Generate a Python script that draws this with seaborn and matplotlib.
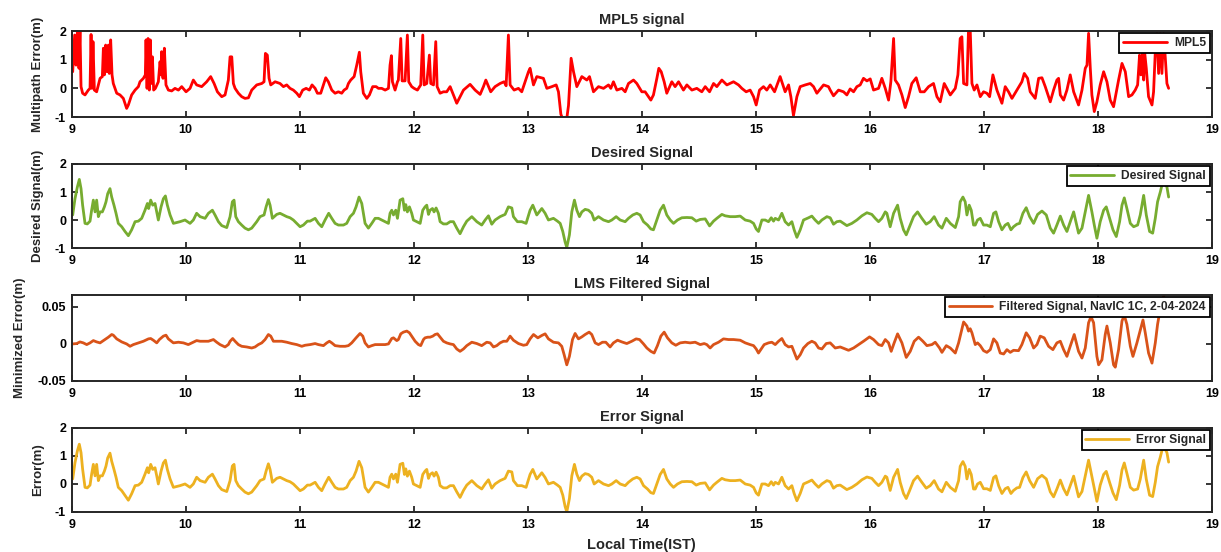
import matplotlib
matplotlib.use("Agg")
import matplotlib.pyplot as plt
import seaborn as sns
import pandas as pd

# ---------------------------------------------------------------------------
# NavIC 1C multipath (MPL5) and LMS adaptive-filter outputs, 2-04-2024
# time in hours of local time (IST), values in metres
# ---------------------------------------------------------------------------
mpl5_time = [
    9.009, 9.026, 9.038, 9.050, 9.064, 9.073, 9.082, 9.096, 9.117, 9.146, 9.161, 9.170, 9.178, 9.187, 9.199,
    9.219, 9.249, 9.269, 9.278, 9.287, 9.298, 9.310, 9.322, 9.330, 9.342, 9.354, 9.365, 9.395, 9.424, 9.453,
    9.482, 9.497, 9.526, 9.556, 9.585, 9.599, 9.629, 9.646, 9.652, 9.661, 9.670, 9.681, 9.690, 9.699, 9.708,
    9.719, 9.734, 9.760, 9.775, 9.784, 9.789, 9.801, 9.813, 9.827, 9.848, 9.877, 9.906, 9.936, 9.965, 10.003,
    10.038, 10.067, 10.096, 10.140, 10.184, 10.219, 10.249, 10.278, 10.316, 10.345, 10.374, 10.389, 10.404, 10.418, 10.433,
    10.462, 10.491, 10.520, 10.550, 10.579, 10.623, 10.667, 10.687, 10.699, 10.716, 10.731, 10.746, 10.784, 10.827, 10.857,
    10.886, 10.915, 10.944, 10.974, 10.997, 11.026, 11.056, 11.085, 11.108, 11.135, 11.155, 11.184, 11.208, 11.228, 11.251,
    11.281, 11.310, 11.339, 11.368, 11.389, 11.412, 11.427, 11.447, 11.477, 11.500, 11.523, 11.535, 11.558, 11.588, 11.611,
    11.640, 11.670, 11.690, 11.719, 11.749, 11.778, 11.792, 11.804, 11.813, 11.836, 11.857, 11.865, 11.886, 11.898, 11.924,
    11.944, 11.956, 11.982, 12.003, 12.032, 12.061, 12.079, 12.091, 12.114, 12.137, 12.149, 12.173, 12.193, 12.205, 12.231,
    12.260, 12.289, 12.319, 12.377, 12.436, 12.494, 12.538, 12.582, 12.611, 12.632, 12.675, 12.713, 12.757, 12.792, 12.810,
    12.830, 12.845, 12.880, 12.918, 12.947, 13.006, 13.020, 13.050, 13.079, 13.137, 13.167, 13.211, 13.249, 13.269, 13.290,
    13.304, 13.342, 13.357, 13.380, 13.401, 13.430, 13.474, 13.518, 13.541, 13.576, 13.620, 13.664, 13.708, 13.728, 13.751,
    13.781, 13.825, 13.854, 13.883, 13.927, 13.956, 14.000, 14.029, 14.058, 14.079, 14.102, 14.132, 14.149, 14.170, 14.196,
    14.219, 14.263, 14.292, 14.322, 14.365, 14.395, 14.439, 14.482, 14.526, 14.556, 14.594, 14.629, 14.658, 14.702, 14.746,
    14.804, 14.848, 14.877, 14.915, 14.950, 14.980, 15.003, 15.032, 15.067, 15.096, 15.126, 15.164, 15.213, 15.257, 15.287,
    15.307, 15.330, 15.360, 15.389, 15.433, 15.477, 15.506, 15.535, 15.594, 15.637, 15.652, 15.681, 15.725, 15.769, 15.798,
    15.827, 15.857, 15.886, 15.915, 15.944, 15.974, 16.003, 16.032, 16.076, 16.105, 16.135, 16.164, 16.184, 16.208, 16.222,
    16.251, 16.281, 16.310, 16.339, 16.368, 16.406, 16.442, 16.477, 16.515, 16.558, 16.588, 16.617, 16.652, 16.675, 16.705,
    16.749, 16.772, 16.792, 16.807, 16.822, 16.851, 16.865, 16.880, 16.895, 16.915, 16.939, 16.968, 16.997, 17.026, 17.050,
    17.079, 17.114, 17.158, 17.187, 17.216, 17.246, 17.289, 17.333, 17.354, 17.383, 17.406, 17.450, 17.480, 17.509, 17.538,
    17.582, 17.611, 17.640, 17.655, 17.670, 17.699, 17.728, 17.757, 17.787, 17.830, 17.860, 17.889, 17.904, 17.918, 17.933,
    17.947, 17.968, 17.991, 18.020, 18.050, 18.079, 18.108, 18.137, 18.181, 18.211, 18.240, 18.269, 18.298, 18.327, 18.348,
    18.365, 18.377, 18.392, 18.401, 18.409, 18.424, 18.444, 18.474, 18.488, 18.503, 18.518, 18.532, 18.547, 18.561, 18.576,
    18.591, 18.605, 18.620,
]
mpl5_error = [
    0.58, 1.86, 0.81, 1.98, 0.70, 2.05, 0.06, -0.17, -0.23, -0.06, 0.00, 1.88, 0.00, 1.63, -0.06,
    -0.12, 0.35, 0.41, 1.40, 0.47, 1.51, 0.58, 1.51, 0.52, 1.69, 0.47, 0.17, -0.17, -0.23, -0.35,
    -0.70, -0.58, -0.23, -0.06, 0.06, 0.23, 0.35, 0.47, 1.69, 0.00, 1.74, -0.06, 1.69, 0.17, 1.10,
    -0.06, 0.00, 0.23, 0.93, 0.47, 1.28, 0.35, 1.40, 0.12, -0.06, -0.09, 0.00, -0.06, 0.06, -0.12,
    0.00, 0.29, 0.12, 0.06, 0.23, 0.41, 0.17, -0.12, -0.29, -0.23, 0.29, 1.10, 1.10, 0.17, 0.00,
    -0.17, -0.29, -0.35, -0.33, -0.06, 0.12, 0.17, 0.23, 1.22, 1.16, 0.35, 0.12, 0.23, 0.17, 0.06,
    0.12, 0.00, -0.06, -0.17, -0.29, -0.06, 0.00, -0.06, 0.12, 0.00, -0.17, -0.17, 0.12, 0.37, 0.23,
    -0.06, -0.17, -0.12, -0.17, -0.06, 0.00, 0.17, 0.29, 0.41, 0.81, 1.26, 0.58, -0.17, -0.35, -0.23,
    0.06, 0.06, 0.00, 0.00, -0.06, 0.00, 0.81, 1.14, 0.23, -0.06, 0.23, 0.29, 1.74, 0.26, 0.26,
    1.86, 0.23, 0.06, 0.00, -0.06, 0.12, 1.86, 0.12, 0.17, 1.16, 0.17, 0.12, 1.63, 0.06, -0.17,
    -0.12, -0.12, 0.06, -0.52, -0.06, 0.14, -0.06, -0.21, 0.06, 0.29, -0.12, 0.06, 0.17, 0.23, 0.09,
    1.86, 0.12, -0.06, 0.00, -0.12, 0.58, 0.70, 0.12, 0.41, 0.35, 0.00, 0.06, 0.12, -0.12, -0.90,
    -1.05, -1.05, -0.60, 1.05, 0.58, 0.06, 0.41, 0.29, 0.41, -0.12, 0.06, 0.00, 0.12, 0.00, 0.23,
    -0.06, 0.00, -0.12, 0.17, 0.29, 0.17, -0.12, -0.12, -0.29, -0.41, -0.23, 0.35, 0.70, 0.58, 0.23,
    -0.17, 0.23, 0.06, 0.23, -0.06, 0.12, -0.06, 0.00, -0.12, 0.06, -0.12, 0.17, 0.06, 0.29, 0.12,
    0.23, 0.12, 0.00, -0.12, -0.06, -0.29, -0.58, -0.06, 0.06, -0.06, 0.12, -0.12, 0.41, -0.12, 0.12,
    -0.29, -0.95, -0.29, 0.06, 0.12, 0.17, 0.06, -0.17, 0.12, 0.06, -0.06, -0.26, -0.06, -0.12, -0.23,
    -0.02, -0.12, 0.06, 0.12, 0.35, 0.26, 0.33, -0.06, 0.00, 0.35, 0.00, -0.41, 0.23, 1.74, 0.29,
    0.12, -0.23, -0.67, -0.29, 0.17, 0.37, -0.12, -0.12, 0.06, 0.17, -0.29, -0.47, 0.17, 0.00, -0.23,
    0.00, 0.47, 1.74, 1.80, 0.17, 0.12, 2.05, 2.05, 0.17, -0.06, 0.12, -0.29, -0.12, -0.17, -0.29,
    0.47, -0.06, -0.52, 0.06, -0.12, -0.35, -0.06, 0.23, 0.52, 0.35, -0.12, -0.35, 0.35, 0.37, 0.06,
    -0.47, -0.06, 0.29, 0.35, -0.23, -0.41, -0.06, 0.47, -0.12, -0.58, -0.06, 0.70, 0.81, 1.92, 0.70,
    -0.23, -0.81, -0.47, 0.12, 0.58, 0.23, -0.41, -0.64, 0.29, 0.87, 0.58, -0.29, -0.23, -0.06, 0.12,
    1.16, 0.47, 1.22, 0.29, 1.28, 0.70, -0.29, -0.58, -0.12, 1.28, 1.90, 0.52, 1.90, 0.52, 1.90,
    1.05, 0.17, 0.00,
]

# epochs of the smoothed (desired / error) series
smooth_time = [
    9.009, 9.029, 9.050, 9.067, 9.082, 9.096, 9.117, 9.137, 9.161, 9.175, 9.190, 9.205, 9.219, 9.234, 9.249,
    9.269, 9.287, 9.301, 9.316, 9.336, 9.351, 9.371, 9.389, 9.409, 9.439, 9.468, 9.497, 9.526, 9.556, 9.585,
    9.614, 9.643, 9.664, 9.675, 9.693, 9.711, 9.731, 9.746, 9.760, 9.784, 9.804, 9.822, 9.839, 9.863, 9.892,
    9.950, 9.994, 10.038, 10.067, 10.096, 10.126, 10.170, 10.199, 10.234, 10.257, 10.287, 10.316, 10.360, 10.389, 10.409,
    10.424, 10.439, 10.462, 10.491, 10.520, 10.550, 10.579, 10.623, 10.652, 10.687, 10.705, 10.725, 10.740, 10.760, 10.798,
    10.827, 10.857, 10.886, 10.915, 10.944, 10.974, 11.003, 11.032, 11.067, 11.091, 11.135, 11.164, 11.193, 11.222, 11.254,
    11.281, 11.310, 11.339, 11.383, 11.412, 11.442, 11.471, 11.494, 11.520, 11.544, 11.573, 11.602, 11.632, 11.661, 11.690,
    11.719, 11.749, 11.778, 11.792, 11.807, 11.822, 11.842, 11.857, 11.880, 11.904, 11.918, 11.930, 11.944, 11.962, 11.982,
    11.997, 12.026, 12.056, 12.079, 12.099, 12.114, 12.129, 12.143, 12.164, 12.178, 12.196, 12.216, 12.231, 12.260, 12.289,
    12.319, 12.348, 12.377, 12.406, 12.436, 12.465, 12.509, 12.553, 12.596, 12.626, 12.655, 12.684, 12.713, 12.757, 12.801,
    12.830, 12.860, 12.874, 12.909, 12.947, 12.985, 13.020, 13.044, 13.079, 13.123, 13.152, 13.181, 13.225, 13.260, 13.284,
    13.307, 13.327, 13.342, 13.365, 13.386, 13.409, 13.430, 13.453, 13.474, 13.503, 13.532, 13.561, 13.582, 13.620, 13.664,
    13.708, 13.737, 13.775, 13.810, 13.854, 13.883, 13.921, 13.956, 13.985, 14.015, 14.050, 14.079, 14.102, 14.132, 14.161,
    14.190, 14.219, 14.249, 14.278, 14.313, 14.351, 14.395, 14.439, 14.477, 14.512, 14.556, 14.594, 14.629, 14.658, 14.702,
    14.731, 14.775, 14.819, 14.863, 14.907, 14.950, 14.980, 15.003, 15.023, 15.053, 15.082, 15.111, 15.135, 15.155, 15.170,
    15.199, 15.228, 15.257, 15.287, 15.316, 15.336, 15.360, 15.389, 15.418, 15.462, 15.491, 15.520, 15.550, 15.579, 15.623,
    15.652, 15.681, 15.710, 15.740, 15.769, 15.798, 15.842, 15.886, 15.930, 15.974, 16.017, 16.047, 16.076, 16.105, 16.135,
    16.149, 16.178, 16.208, 16.243, 16.266, 16.295, 16.319, 16.348, 16.383, 16.418, 16.456, 16.494, 16.529, 16.564, 16.602,
    16.632, 16.670, 16.705, 16.749, 16.778, 16.792, 16.816, 16.836, 16.851, 16.871, 16.889, 16.909, 16.924, 16.944, 16.968,
    16.997, 17.026, 17.056, 17.085, 17.105, 17.129, 17.158, 17.187, 17.211, 17.237, 17.260, 17.289, 17.313, 17.342, 17.371,
    17.401, 17.436, 17.471, 17.509, 17.547, 17.582, 17.611, 17.640, 17.670, 17.699, 17.728, 17.757, 17.787, 17.830, 17.860,
    17.889, 17.918, 17.947, 17.968, 17.991, 18.020, 18.050, 18.073, 18.102, 18.132, 18.161, 18.190, 18.211, 18.231, 18.254,
    18.284, 18.313, 18.348, 18.371, 18.401, 18.424, 18.453, 18.480, 18.503, 18.523, 18.547, 18.561, 18.576, 18.591, 18.605,
    18.620,
]
desired_signal = [
    0.18, 0.76, 1.18, 1.45, 1.12, 0.53, -0.12, -0.14, -0.04, 0.35, 0.71, 0.29, 0.71, 0.12, 0.29,
    0.29, 0.47, 0.65, 0.94, 1.12, 0.82, 0.53, 0.24, -0.12, -0.24, -0.41, -0.56, -0.35, -0.06, -0.04,
    0.06, 0.35, 0.59, 0.41, 0.71, 0.53, 0.59, 0.29, 0.00, 0.47, 0.76, 0.86, 0.53, 0.18, -0.12,
    -0.06, 0.00, -0.12, 0.00, 0.24, 0.12, 0.06, 0.24, 0.35, 0.18, -0.06, -0.20, -0.27, 0.12, 0.65,
    0.71, 0.12, -0.06, -0.18, -0.29, -0.35, -0.29, -0.06, 0.12, 0.18, 0.47, 0.73, 0.53, 0.06, 0.20,
    0.24, 0.18, 0.12, 0.08, 0.00, -0.12, -0.24, -0.18, -0.04, -0.04, 0.06, -0.12, -0.24, 0.00, 0.24,
    0.06, -0.12, -0.18, -0.18, -0.12, 0.12, 0.24, 0.47, 0.82, 0.59, -0.12, -0.29, -0.12, 0.06, 0.06,
    0.00, -0.06, -0.12, 0.24, 0.35, 0.18, 0.35, 0.06, 0.71, 0.76, 0.35, 0.55, 0.29, 0.47, 0.24,
    0.00, -0.06, -0.12, 0.35, 0.47, 0.53, 0.20, 0.35, 0.41, 0.29, 0.43, 0.24, -0.06, -0.14, -0.14,
    -0.06, -0.06, -0.29, -0.49, -0.24, -0.04, 0.12, -0.06, -0.18, 0.00, 0.15, -0.15, 0.00, 0.12, 0.20,
    0.47, 0.43, 0.12, -0.06, -0.06, -0.12, 0.35, 0.53, 0.18, 0.41, 0.24, 0.00, 0.06, -0.04, -0.12,
    -0.41, -0.78, -0.98, -0.53, 0.29, 0.71, 0.35, 0.12, 0.29, 0.38, 0.35, 0.24, 0.00, 0.12, 0.00,
    -0.06, 0.00, 0.12, 0.00, -0.06, 0.06, 0.18, 0.24, 0.18, -0.06, -0.18, -0.32, -0.35, 0.00, 0.35,
    0.53, 0.18, 0.00, -0.12, 0.00, 0.08, 0.09, 0.08, -0.04, 0.02, 0.04, -0.21, -0.04, 0.06, 0.20,
    0.15, 0.12, 0.12, 0.14, 0.00, -0.04, -0.12, -0.32, -0.41, 0.00, 0.00, -0.06, 0.08, -0.04, 0.06,
    0.00, 0.24, -0.06, -0.18, -0.06, -0.35, -0.62, -0.35, 0.00, 0.08, 0.14, 0.00, -0.12, 0.00, 0.12,
    0.08, -0.15, -0.06, -0.04, -0.12, -0.20, -0.12, 0.00, 0.15, 0.26, 0.20, 0.06, -0.06, 0.06, 0.29,
    0.24, -0.24, 0.24, 0.53, 0.06, -0.35, -0.53, -0.24, 0.12, 0.29, 0.06, -0.15, -0.06, 0.12, -0.18,
    -0.29, 0.06, -0.12, -0.27, 0.12, 0.65, 0.82, 0.65, 0.18, 0.53, 0.35, -0.18, -0.18, 0.00, 0.06,
    -0.18, -0.18, -0.24, 0.24, 0.29, -0.06, -0.35, -0.18, -0.12, -0.35, -0.24, -0.15, -0.12, 0.24, 0.44,
    0.12, -0.12, 0.20, 0.32, 0.18, -0.29, -0.47, -0.18, 0.14, -0.18, -0.41, -0.06, 0.29, -0.47, -0.29,
    0.29, 0.88, 0.29, -0.18, -0.65, -0.06, 0.35, 0.47, 0.06, -0.35, -0.59, -0.06, 0.53, 0.79, 0.41,
    -0.12, -0.24, -0.18, 0.18, 0.88, 0.18, -0.41, -0.47, 0.06, 0.65, 1.00, 1.24, 1.41, 1.29, 1.18,
    0.82,
]
error_signal = [
    0.18, 0.76, 1.18, 1.42, 1.12, 0.53, -0.12, -0.14, -0.04, 0.35, 0.70, 0.29, 0.70, 0.12, 0.29,
    0.29, 0.46, 0.64, 0.93, 1.10, 0.81, 0.52, 0.24, -0.12, -0.24, -0.41, -0.58, -0.35, -0.06, -0.04,
    0.06, 0.35, 0.58, 0.40, 0.70, 0.52, 0.58, 0.29, 0.00, 0.46, 0.75, 0.85, 0.52, 0.18, -0.12,
    -0.06, 0.00, -0.12, 0.00, 0.24, 0.12, 0.06, 0.24, 0.35, 0.18, -0.06, -0.20, -0.27, 0.12, 0.64,
    0.70, 0.12, -0.06, -0.18, -0.29, -0.35, -0.29, -0.06, 0.12, 0.18, 0.46, 0.72, 0.52, 0.06, 0.20,
    0.24, 0.18, 0.12, 0.08, 0.00, -0.12, -0.24, -0.18, -0.04, -0.04, 0.06, -0.12, -0.24, 0.00, 0.24,
    0.06, -0.12, -0.18, -0.18, -0.12, 0.12, 0.24, 0.46, 0.81, 0.58, -0.12, -0.29, -0.12, 0.06, 0.06,
    0.00, -0.06, -0.12, 0.24, 0.35, 0.18, 0.35, 0.06, 0.70, 0.74, 0.34, 0.54, 0.28, 0.46, 0.24,
    0.00, -0.06, -0.12, 0.34, 0.46, 0.52, 0.20, 0.34, 0.40, 0.28, 0.42, 0.24, -0.06, -0.14, -0.14,
    -0.06, -0.06, -0.28, -0.48, -0.23, -0.04, 0.12, -0.06, -0.18, 0.00, 0.15, -0.15, 0.00, 0.12, 0.20,
    0.46, 0.43, 0.12, -0.06, -0.06, -0.12, 0.34, 0.52, 0.18, 0.40, 0.23, 0.00, 0.06, -0.04, -0.12,
    -0.40, -0.80, -1.00, -0.52, 0.29, 0.70, 0.35, 0.12, 0.28, 0.37, 0.34, 0.24, 0.00, 0.12, 0.00,
    -0.06, 0.00, 0.12, 0.00, -0.06, 0.06, 0.18, 0.24, 0.18, -0.06, -0.18, -0.31, -0.34, 0.00, 0.34,
    0.52, 0.18, 0.00, -0.12, 0.00, 0.08, 0.09, 0.08, -0.04, 0.02, 0.04, -0.21, -0.04, 0.06, 0.20,
    0.15, 0.12, 0.12, 0.14, 0.00, -0.04, -0.12, -0.32, -0.40, 0.00, 0.00, -0.06, 0.08, -0.04, 0.06,
    0.00, 0.24, -0.06, -0.18, -0.06, -0.34, -0.60, -0.34, 0.00, 0.08, 0.14, 0.00, -0.12, 0.00, 0.12,
    0.08, -0.15, -0.06, -0.04, -0.12, -0.20, -0.12, 0.00, 0.15, 0.25, 0.20, 0.06, -0.06, 0.06, 0.28,
    0.24, -0.23, 0.24, 0.52, 0.06, -0.34, -0.52, -0.24, 0.12, 0.28, 0.06, -0.15, -0.06, 0.12, -0.18,
    -0.28, 0.06, -0.12, -0.26, 0.12, 0.63, 0.80, 0.63, 0.18, 0.52, 0.34, -0.18, -0.18, 0.00, 0.06,
    -0.17, -0.17, -0.23, 0.23, 0.29, -0.06, -0.34, -0.17, -0.12, -0.34, -0.23, -0.14, -0.12, 0.23, 0.43,
    0.12, -0.12, 0.19, 0.31, 0.18, -0.28, -0.46, -0.18, 0.14, -0.17, -0.39, -0.06, 0.28, -0.46, -0.27,
    0.29, 0.85, 0.26, -0.16, -0.62, -0.04, 0.34, 0.45, 0.06, -0.32, -0.56, -0.05, 0.50, 0.75, 0.38,
    -0.12, -0.22, -0.18, 0.17, 0.85, 0.17, -0.40, -0.45, 0.06, 0.62, 0.96, 1.19, 1.35, 1.23, 1.12,
    0.78,
]

filtered_time = [
    9.009, 9.044, 9.073, 9.102, 9.132, 9.161, 9.190, 9.219, 9.249, 9.278, 9.322, 9.351, 9.365, 9.395, 9.439,
    9.482, 9.512, 9.541, 9.585, 9.629, 9.673, 9.693, 9.716, 9.746, 9.769, 9.804, 9.827, 9.848, 9.892, 9.936,
    9.980, 10.023, 10.067, 10.096, 10.126, 10.155, 10.199, 10.243, 10.272, 10.301, 10.345, 10.374, 10.389, 10.412, 10.433,
    10.462, 10.491, 10.535, 10.579, 10.608, 10.637, 10.667, 10.696, 10.725, 10.746, 10.769, 10.798, 10.842, 10.886, 10.930,
    10.974, 11.018, 11.047, 11.091, 11.135, 11.164, 11.208, 11.237, 11.260, 11.281, 11.310, 11.354, 11.398, 11.427, 11.456,
    11.494, 11.529, 11.553, 11.573, 11.602, 11.632, 11.661, 11.705, 11.749, 11.778, 11.807, 11.822, 11.851, 11.865, 11.886,
    11.909, 11.939, 11.962, 11.982, 12.012, 12.041, 12.061, 12.085, 12.099, 12.123, 12.143, 12.167, 12.187, 12.208, 12.231,
    12.260, 12.289, 12.319, 12.348, 12.377, 12.406, 12.436, 12.465, 12.509, 12.553, 12.596, 12.640, 12.670, 12.699, 12.728,
    12.757, 12.787, 12.816, 12.845, 12.874, 12.918, 12.962, 12.991, 13.020, 13.050, 13.088, 13.123, 13.152, 13.181, 13.225,
    13.269, 13.298, 13.319, 13.342, 13.365, 13.392, 13.415, 13.444, 13.474, 13.503, 13.538, 13.561, 13.591, 13.620, 13.655,
    13.684, 13.722, 13.751, 13.787, 13.825, 13.868, 13.912, 13.950, 13.980, 14.015, 14.044, 14.079, 14.108, 14.137, 14.167,
    14.196, 14.225, 14.263, 14.298, 14.336, 14.380, 14.424, 14.468, 14.512, 14.547, 14.570, 14.599, 14.629, 14.673, 14.716,
    14.760, 14.804, 14.863, 14.907, 14.950, 14.980, 15.003, 15.023, 15.047, 15.073, 15.111, 15.140, 15.170, 15.199, 15.228,
    15.257, 15.287, 15.316, 15.339, 15.360, 15.389, 15.418, 15.456, 15.491, 15.520, 15.550, 15.579, 15.617, 15.652, 15.696,
    15.740, 15.784, 15.813, 15.857, 15.901, 15.944, 15.997, 16.032, 16.076, 16.105, 16.135, 16.164, 16.187, 16.213, 16.243,
    16.281, 16.319, 16.354, 16.389, 16.427, 16.465, 16.500, 16.544, 16.573, 16.611, 16.632, 16.670, 16.705, 16.749, 16.778,
    16.807, 16.822, 16.851, 16.865, 16.880, 16.895, 16.924, 16.944, 16.968, 16.997, 17.026, 17.056, 17.085, 17.114, 17.143,
    17.173, 17.202, 17.231, 17.260, 17.304, 17.333, 17.371, 17.401, 17.436, 17.465, 17.494, 17.529, 17.567, 17.605, 17.640,
    17.670, 17.699, 17.728, 17.757, 17.792, 17.830, 17.860, 17.889, 17.918, 17.939, 17.962, 17.991, 18.006, 18.035, 18.064,
    18.079, 18.108, 18.137, 18.152, 18.181, 18.211, 18.231, 18.254, 18.284, 18.307, 18.342, 18.365, 18.395, 18.415, 18.444,
    18.474, 18.503, 18.523, 18.541, 18.561, 18.591,
]
filtered_signal = [
    0.0000, 0.0005, 0.0027, 0.0014, -0.0009, 0.0014, 0.0045, 0.0027, 0.0014, 0.0045, 0.0091, 0.0127, 0.0118, 0.0068, 0.0027,
    0.0000, -0.0032, -0.0009, 0.0014, 0.0036, 0.0068, 0.0073, 0.0050, 0.0014, 0.0059, 0.0105, 0.0118, 0.0068, 0.0014, 0.0023,
    0.0014, -0.0009, 0.0023, 0.0045, 0.0036, 0.0036, 0.0036, 0.0059, 0.0023, -0.0009, -0.0041, -0.0009, 0.0036, 0.0073, 0.0036,
    -0.0009, -0.0032, -0.0041, -0.0055, -0.0041, -0.0009, 0.0014, 0.0059, 0.0127, 0.0105, 0.0036, 0.0036, 0.0036, 0.0023, 0.0005,
    -0.0009, -0.0032, -0.0018, -0.0009, 0.0005, -0.0009, -0.0023, 0.0014, 0.0036, 0.0014, -0.0023, -0.0032, -0.0032, -0.0023, 0.0014,
    0.0082, 0.0141, 0.0105, 0.0014, -0.0041, -0.0023, -0.0009, -0.0009, -0.0009, 0.0000, 0.0073, 0.0082, 0.0045, 0.0059, 0.0136,
    0.0159, 0.0173, 0.0150, 0.0105, 0.0036, -0.0009, -0.0023, 0.0059, 0.0082, 0.0091, 0.0091, 0.0105, 0.0127, 0.0136, 0.0091,
    0.0036, 0.0014, 0.0000, -0.0009, -0.0068, -0.0100, -0.0068, -0.0023, 0.0023, 0.0005, -0.0023, 0.0023, 0.0014, -0.0041, -0.0023,
    0.0014, 0.0036, 0.0036, 0.0105, 0.0050, 0.0005, -0.0018, -0.0009, 0.0068, 0.0127, 0.0082, 0.0114, 0.0136, 0.0068, 0.0023,
    0.0014, -0.0032, -0.0146, -0.0282, -0.0168, 0.0059, 0.0141, 0.0068, 0.0095, 0.0127, 0.0159, 0.0127, 0.0014, -0.0009, 0.0023,
    0.0023, -0.0041, 0.0014, 0.0050, 0.0027, 0.0005, 0.0036, 0.0068, 0.0059, 0.0000, -0.0055, -0.0100, -0.0123, -0.0023, 0.0105,
    0.0159, 0.0082, 0.0014, -0.0018, 0.0014, 0.0023, 0.0014, 0.0023, -0.0009, 0.0005, -0.0009, -0.0055, -0.0009, 0.0023, 0.0068,
    0.0059, 0.0059, 0.0050, 0.0014, -0.0009, -0.0023, -0.0068, -0.0123, -0.0068, -0.0009, 0.0014, 0.0023, -0.0009, 0.0036, 0.0073,
    -0.0009, -0.0041, -0.0032, -0.0123, -0.0205, -0.0146, -0.0055, 0.0005, 0.0036, 0.0014, -0.0055, -0.0068, 0.0005, 0.0014, -0.0055,
    -0.0041, -0.0068, -0.0086, -0.0055, -0.0009, 0.0036, 0.0095, 0.0059, -0.0009, -0.0023, 0.0059, 0.0014, -0.0100, 0.0014, 0.0136,
    0.0014, -0.0182, -0.0100, 0.0036, 0.0091, 0.0036, -0.0023, -0.0009, 0.0023, -0.0055, -0.0114, -0.0023, -0.0055, -0.0123, 0.0014,
    0.0196, 0.0296, 0.0241, 0.0173, 0.0205, 0.0150, -0.0009, 0.0014, -0.0023, -0.0091, -0.0114, -0.0077, 0.0068, 0.0014, -0.0123,
    -0.0136, -0.0077, -0.0114, -0.0086, -0.0091, -0.0009, 0.0150, 0.0082, -0.0055, -0.0009, 0.0105, 0.0082, -0.0032, -0.0077, 0.0014,
    0.0036, -0.0077, -0.0168, -0.0032, 0.0127, -0.0100, -0.0191, -0.0055, 0.0286, 0.0368, 0.0286, -0.0168, -0.0282, -0.0214, 0.0127,
    0.0241, 0.0014, -0.0282, -0.0314, -0.0077, 0.0309, 0.0387, 0.0264, -0.0032, -0.0168, 0.0014, 0.0150, 0.0323, 0.0150, -0.0123,
    -0.0259, 0.0014, 0.0264, 0.0423, 0.0580, 0.0700,
]

x_ticks = [9, 10, 11, 12, 13, 14, 15, 16, 17, 18, 19]
panel_titles = ["MPL5 signal", "Desired Signal", "LMS Filtered Signal", "Error Signal"]
panel_ylabels = ["Multipath Error(m)", "Desired Signal(m)", "Minimized Error(m)", "Error(m)"]
legend_labels = ["MPL5", "Desired Signal", "Filtered Signal, NavIC 1C, 2-04-2024", "Error Signal"]
y_ticks_metres = [-1, 0, 1, 2]
y_ticks_filtered = [-0.05, 0, 0.05]
y_ticklabels_filtered = ["-0.05", "0", "0.05"]

# ---------------------------------------------------------------------------
sns.set_style("ticks")
plt.rcParams["font.family"] = ["Liberation Sans", "DejaVu Sans"]
plt.rcParams["font.weight"] = "bold"
plt.rcParams["axes.unicode_minus"] = False

series = [
    (mpl5_time, mpl5_error, "#ff0000", (-1, 2), y_ticks_metres, None),
    (smooth_time, desired_signal, "#77ac30", (-1, 2), y_ticks_metres, None),
    (filtered_time, filtered_signal, "#d95319", (-0.05, 0.066), y_ticks_filtered, y_ticklabels_filtered),
    (smooth_time, error_signal, "#edb120", (-1, 2), y_ticks_metres, None),
]

fig = plt.figure(figsize=(12.21, 5.52), dpi=100)
rects = [
    (0.0587, 0.7880, 0.9339, 0.1558),
    (0.0587, 0.5507, 0.9339, 0.1522),
    (0.0587, 0.3098, 0.9339, 0.1558),
    (0.0587, 0.0725, 0.9339, 0.1522),
]
ylabel_x = [-0.024, -0.024, -0.040, -0.024]
axis_grey = "#262626"

for i, (t, v, colour, ylim, yt, ytl) in enumerate(series):
    ax = fig.add_axes(rects[i])
    frame = pd.DataFrame({"time": t, "value": v})
    sns.lineplot(data=frame, x="time", y="value", ax=ax, color=colour, linewidth=2.0,
                 estimator=None, sort=False, label=legend_labels[i])
    ax.set_xlim(9, 19)
    ax.set_ylim(*ylim)
    ax.set_xticks(x_ticks)
    ax.set_xticklabels([str(x) for x in x_ticks])
    ax.set_yticks(yt)
    if ytl is not None:
        ax.set_yticklabels(ytl)
    else:
        ax.set_yticklabels([str(y) for y in yt])
    ax.tick_params(direction="in", top=True, right=True, length=4, width=1.3,
                   colors=axis_grey, labelcolor="black", labelsize=9)
    ax.tick_params(axis="x", pad=5)
    ax.tick_params(axis="y", pad=4)
    for lab in ax.get_xticklabels() + ax.get_yticklabels():
        lab.set_fontweight("bold")
    for sp in ax.spines.values():
        sp.set_visible(True)
        sp.set_linewidth(1.4)
        sp.set_color(axis_grey)
    ax.set_title(panel_titles[i], fontsize=10.5, fontweight="bold", pad=5)
    ax.set_ylabel(panel_ylabels[i], fontsize=9.5, fontweight="bold")
    ax.yaxis.set_label_coords(ylabel_x[i], 0.5)
    ax.set_xlabel("Local Time(IST)" if i == 3 else "", fontsize=10.5, fontweight="bold", labelpad=5)
    leg = ax.legend(loc="upper right", frameon=True, fancybox=False, framealpha=1,
                    edgecolor="black", prop={"weight": "bold", "size": 8.7},
                    handlelength=3.6, borderaxespad=0.2, borderpad=0.3, handletextpad=0.6)
    leg.get_frame().set_linewidth(1.3)

fig.savefig("out.png", dpi=100)
